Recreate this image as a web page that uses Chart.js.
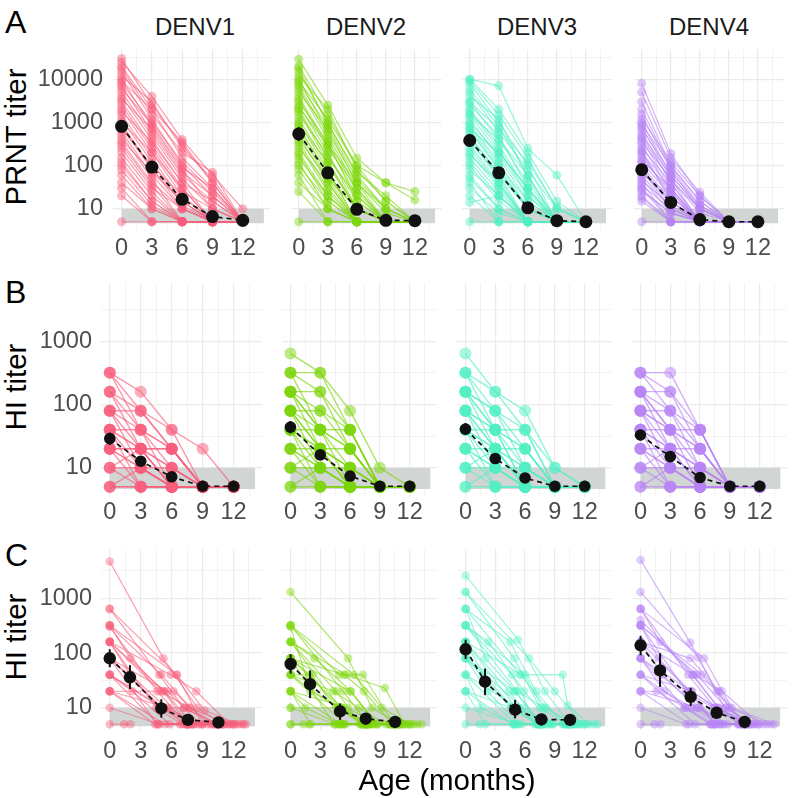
<!DOCTYPE html>
<html><head><meta charset="utf-8">
<script src="https://cdn.jsdelivr.net/npm/chart.js@4.4.1/dist/chart.umd.min.js"></script>
<style>
body{margin:0;background:#fff;width:793px;height:798px;position:relative;overflow:hidden;font-family:"Liberation Sans",Arial,sans-serif;}
canvas{position:absolute;}
.t{position:absolute;white-space:nowrap;line-height:1;}
</style></head><body>
<script>
// ---------- DATA ----------
const serotypes = ['DENV1','DENV2','DENV3','DENV4'];
const visitMonths = [0,3,6,9,12];
const xMajor = [0,3,6,9,12];
const xMinor = [1.5,4.5,7.5,10.5,13.5];
const yMajorA = [10,100,1000,10000];
const yMinorA = [31.62,316.2,3162,31623];
const yMajorBC = [10,100,1000];
const yMinorBC = [31.62,316.2,3162];
const bandLow = 4.6, bandHigh = 10, bandX = [0,14.1];

// Panel A: PRNT titers per infant at 0,3,6,9,12 months
const prntD1 = [[30000,2500,300,40,5],[25000,4000,400,60,10],[20000,2000,150,30,5],[18000,1500,200,70,5],[15000,1200,100,20,5],[12000,3000,250,50,5],[10000,800,80,10,5],[8000,1000,120,25,5],[7000,600,60,15,5],[6000,900,90,30,5],[5000,500,50,10,5],[4000,400,40,5,5],[3500,700,70,20,5],[3000,300,30,5,5],[2500,250,25,10,5],[2000,200,20,5,5],[1800,350,40,15,5],[1500,150,15,5,5],[1200,120,12,5,5],[1000,200,30,5,5],[900,90,10,5,5],[800,80,15,5,5],[700,100,20,5,5],[600,60,10,5,5],[500,50,5,5,5],[400,70,15,5,5],[350,40,10,5,5],[300,35,5,5,5],[250,30,10,5,5],[200,25,5,5,5],[150,20,5,5,5],[120,15,5,5,5],[100,15,5,5,5],[80,12,5,5,5],[60,10,5,5,5],[40,10,5,5,5],[30,5,5,5,5],[20,5,5,5,5],[5,5,5,5,5],[9000,2000,350,40,5]];
const prntD2 = [[29000,2500,150,40,25],[20000,1500,100,40,16],[15000,1000,60,10,5],[12000,2000,80,15,5],[10000,600,40,5,5],[8000,800,50,10,5],[7000,500,30,5,5],[6000,400,25,5,5],[5000,700,40,10,5],[4000,300,20,5,5],[3500,250,30,5,5],[3000,350,15,5,5],[2500,200,10,5,5],[2000,150,20,5,5],[1800,120,10,5,5],[1500,180,15,5,5],[1200,100,10,5,5],[1000,80,5,5,5],[900,120,10,5,5],[800,60,10,5,5],[700,70,5,5,5],[600,50,10,5,5],[500,40,5,5,5],[400,50,5,5,5],[350,30,5,5,5],[300,25,5,5,5],[250,40,5,5,5],[200,20,5,5,5],[180,15,5,5,5],[150,20,5,5,5],[120,10,5,5,5],[100,15,5,5,5],[80,10,5,5,5],[60,5,5,5,5],[40,10,5,5,5],[25,5,5,5,5],[5,5,5,5,5],[18000,900,70,20,5],[9000,1200,100,15,5],[2200,300,40,8,5]];
const prntD3 = [[10000,7000,250,60,5],[9000,1500,150,10,5],[8000,1000,100,5,5],[6000,800,60,5,5],[5000,600,80,10,5],[4000,1200,50,5,5],[3000,400,40,5,5],[2500,500,30,5,5],[2000,300,25,5,5],[1800,250,20,5,5],[1500,200,30,5,5],[1200,150,15,5,5],[1000,180,20,5,5],[900,120,10,5,5],[800,100,15,5,5],[700,80,10,5,5],[600,90,10,5,5],[500,60,5,5,5],[450,70,10,5,5],[400,50,5,5,5],[350,60,10,5,5],[300,40,5,5,5],[250,35,5,5,5],[200,30,5,5,5],[180,40,5,5,5],[150,25,5,5,5],[120,20,5,5,5],[100,15,5,5,5],[80,20,5,5,5],[60,10,5,5,5],[50,10,5,5,5],[40,5,5,5,5],[30,8,5,5,5],[20,5,5,5,5],[14,20,5,5,5],[5,5,5,5,5],[3000,700,120,11,5],[1500,400,60,5,5],[700,200,30,5,5],[10000,2000,200,15,5]];
const prntD4 = [[8000,190,20,5,5],[5000,150,24,5,5],[3000,100,15,5,5],[1500,80,10,5,5],[1200,120,20,5,5],[1000,60,10,5,5],[800,50,5,5,5],[700,70,12,5,5],[600,40,5,5,5],[500,60,10,5,5],[400,30,5,5,5],[350,50,8,5,5],[300,25,5,5,5],[250,40,5,5,5],[200,30,5,5,5],[180,20,5,5,5],[150,25,5,5,5],[120,20,5,5,5],[100,15,5,5,5],[90,12,5,5,5],[80,10,5,5,5],[70,15,5,5,5],[60,10,5,5,5],[50,8,5,5,5],[45,12,5,5,5],[40,5,5,5,5],[35,10,5,5,5],[30,5,5,5,5],[25,8,5,5,5],[20,5,5,5,5],[15,5,5,5,5],[5,5,5,5,5],[2000,90,12,5,5],[900,100,15,5,5],[450,45,10,5,5],[220,15,5,5,5],[130,30,5,5,5],[65,20,5,5,5],[28,8,5,5,5],[18,5,5,5,5]];
const prntMean = [[810,92,16.5,6.6,5.4],[540,68,9.7,5.4,5.3],[380,68,10.5,5.3,5],[80,14,5.6,5,5]];
const prntLo = [[590,75,13.5,6,5.1],[370,55,8.5,5.1,5],[275,55,9.2,5,5],[62,12,5.2,5,5]];
const prntHi = [[1100,112,20,7.3,5.7],[780,85,11,5.8,5.6],[540,85,12,5.6,5],[105,16.5,6,5,5]];

// Panel B: HI titers per infant at 0,3,6,9,12 months
const hiD1 = [[320,160,40,20,5],[320,80,20,5,5],[320,40,10,5,5],[160,80,40,5,5],[160,20,5,5,5],[160,40,20,5,5],[80,40,20,5,5],[80,20,10,5,5],[80,80,20,5,5],[80,10,5,5,5],[40,20,10,5,5],[40,40,5,5,5],[40,10,5,5,5],[40,5,5,5,5],[20,20,5,5,5],[20,10,5,5,5],[20,5,5,5,5],[20,20,20,5,5],[10,10,5,5,5],[10,5,5,5,5],[5,5,5,5,5],[5,10,5,5,5],[40,20,20,5,5],[20,10,10,5,5],[5,5,5,5,5],[10,20,5,5,5]];
const hiD2 = [[640,320,80,10,5],[320,320,40,5,5],[320,160,20,5,5],[320,40,10,5,5],[160,160,40,5,5],[160,80,20,5,5],[160,40,5,5,5],[160,20,10,5,5],[80,80,40,5,5],[80,40,20,5,5],[80,20,5,5,5],[80,10,5,5,5],[40,40,20,5,5],[40,20,10,5,5],[40,10,5,5,5],[40,5,5,5,5],[20,20,10,5,5],[20,10,5,5,5],[20,5,5,5,5],[10,10,5,5,5],[10,5,5,5,5],[5,5,5,5,5],[5,10,5,5,5],[160,40,40,5,5],[80,20,20,5,5],[40,20,5,5,5],[20,10,10,5,5],[10,20,5,5,5]];
const hiD3 = [[640,160,40,5,5],[320,160,80,10,5],[320,80,20,5,5],[320,40,10,5,5],[160,80,40,5,5],[160,40,20,5,5],[160,20,5,5,5],[160,80,10,5,5],[80,40,20,5,5],[80,20,10,5,5],[80,10,5,5,5],[80,40,5,5,5],[40,20,10,5,5],[40,10,5,5,5],[40,5,5,5,5],[40,40,5,5,5],[20,10,5,5,5],[20,20,5,5,5],[20,5,5,5,5],[10,10,5,5,5],[10,5,5,5,5],[5,5,5,5,5],[5,10,5,5,5],[160,40,40,10,5],[80,20,20,5,5],[20,10,10,5,5],[10,20,5,5,5],[40,20,5,5,5]];
const hiD4 = [[320,320,40,5,5],[320,160,20,5,5],[320,80,10,5,5],[160,160,40,5,5],[160,80,20,5,5],[160,40,10,5,5],[160,20,5,5,5],[80,80,40,5,5],[80,40,20,5,5],[80,20,5,5,5],[80,10,5,5,5],[40,40,20,5,5],[40,20,10,5,5],[40,10,5,5,5],[40,5,5,5,5],[20,20,10,5,5],[20,10,5,5,5],[20,5,5,5,5],[10,10,5,5,5],[10,5,5,5,5],[5,5,5,5,5],[5,10,5,5,5],[40,20,20,5,5],[20,10,10,5,5],[10,20,10,5,5],[80,40,40,5,5],[160,40,5,5,5]];
const hiMean = [[29,12.7,7.2,5.1,5.1],[44,16,7.4,5.1,5.1],[41,14,6.9,5.1,5.1],[33,15,7,5.1,5.1]];
const hiLo = [[23,10.8,6.4,5,5],[35,13.5,6.6,5,5],[33,12,6.2,5,5],[27,12.5,6.3,5,5]];
const hiHi = [[36,15,8.1,5.2,5.2],[55,19,8.3,5.2,5.2],[51,16.5,7.7,5.2,5.2],[40,18,7.8,5.2,5.2]];

// Panel C: HI titers per infant, [age in months, titer]
const cohortD1 = [[[0,4700],[5.2,80],[8.5,10],[11,5]],[[0,640],[4.8,40],[7.2,10],[10.5,5]],[[0,320],[5.0,40],[7.8,10],[11.5,5]],[[0,320],[6.5,40],[9.2,9],[12.5,5]],[[0,300],[4.6,20],[7.5,5],[10.2,5]],[[0,160],[5.3,20],[8,5],[11,5]],[[0,160],[4.5,10],[7,5],[10,5]],[[0,160],[2.0,40],[5.5,10],[8.2,5],[12,5]],[[0,80],[5.1,10],[7.6,5],[10.8,5]],[[0,80],[1.8,40],[4.9,10],[7.4,5],[10.4,5]],[[0,80],[5.6,20],[8.8,5],[13,5]],[[0,40],[4.7,5],[7.3,5],[10.6,5]],[[0,40],[5.2,10],[8.1,5],[11.2,5]],[[0,40],[2.2,20],[5.8,5],[9,5],[12.2,5]],[[0,20],[4.4,5],[6.8,5],[9.8,5]],[[0,20],[5.4,5],[7.9,5],[10.9,5]],[[0,20],[6.2,20],[9.5,5],[12.8,5]],[[0,10],[4.8,5],[7.7,5],[11.8,5]],[[0,5],[1.4,5],[2.0,5]],[[0,160],[5.9,40],[8.4,20],[11.6,5]],[[0,320],[2.0,80],[5.2,20],[7.6,5],[10.6,5]],[[0,40],[5,10],[7.2,10],[10.2,5]],[[0,80],[4.6,5],[7.5,5],[10.5,5]],[[0,20],[5.7,10],[8.6,5],[13.2,5]],[[0,640],[6.5,40],[9,5],[12,5]],[[0,160],[4.9,20],[7.7,10],[10.4,5]]];
const cohortD2 = [[[0,1300],[5.8,80],[8.2,10],[11,5]],[[0,320],[4.9,40],[7.3,40],[10.4,5]],[[0,320],[5.3,20],[7.8,5],[10.8,5]],[[0,300],[2.0,20],[5.0,10],[7.6,5],[10.5,5]],[[0,160],[4.6,20],[7.1,5],[10.2,5]],[[0,160],[5.6,40],[9.5,23],[11.5,5]],[[0,160],[5.0,10],[7.5,5],[11.8,5]],[[0,80],[1.9,40],[4.8,10],[7.4,5],[10.6,5]],[[0,80],[5.2,10],[8.0,5],[12.4,5]],[[0,80],[4.4,5],[7.0,5],[9.9,5]],[[0,80],[6.0,20],[8.8,5],[13.2,5]],[[0,40],[2.2,40],[5.4,5],[7.9,5],[10.9,5]],[[0,40],[4.7,10],[7.2,5],[10.1,5]],[[0,40],[5.5,5],[8.3,5],[12,5]],[[0,20],[1.5,10],[4.9,5],[7.5,5],[10.4,5]],[[0,20],[5.1,5],[7.7,5],[11.1,5]],[[0,20],[5.8,10],[8.5,5],[12.8,5]],[[0,10],[4.5,5],[7.3,5],[10,5]],[[0,5],[1.3,5],[1.9,5],[5.0,5]],[[0,5],[4.8,5],[7.6,5],[10.7,5]],[[0,160],[2.4,80],[6.1,20],[8.7,5],[11.4,5]],[[0,80],[5.4,40],[7.4,20],[10.3,5]],[[0,40],[4.3,20],[6.9,10],[9.6,5]],[[0,320],[6.4,40],[9.2,10],[12.1,5]],[[0,20],[2.0,5],[5.3,5],[8.1,5]],[[0,10],[5.2,10],[7.8,5],[11.3,5]]];
const cohortD3 = [[[0,2600],[5.3,175],[8,20],[10.5,5]],[[0,1300],[4.9,80],[7.5,10],[10.2,5]],[[0,640],[5.5,40],[9.8,40],[10.3,11],[12.5,5]],[[0,640],[2.0,80],[5.0,20],[7.6,5],[10.6,5]],[[0,320],[4.7,40],[7.2,5],[10.4,5]],[[0,320],[5.2,20],[7.9,10],[11,5]],[[0,320],[6.0,40],[8.6,5],[12.2,5]],[[0,160],[1.8,40],[4.8,10],[7.4,5],[10.5,5]],[[0,160],[5.1,10],[7.7,5],[10.8,5]],[[0,160],[4.4,20],[7.0,5],[9.9,5]],[[0,80],[2.2,20],[5.4,5],[8.0,5],[11.5,5]],[[0,80],[4.6,10],[7.3,5],[10.1,5]],[[0,80],[5.8,10],[8.4,5],[13,5]],[[0,40],[5.0,5],[7.6,5],[10.7,5]],[[0,40],[1.6,10],[4.9,5],[7.5,5],[10.3,5]],[[0,40],[5.3,10],[8.2,5],[12,5]],[[0,20],[4.8,5],[7.4,5],[10.4,5]],[[0,20],[2.0,5],[5.6,5],[8.8,5]],[[0,10],[5.2,5],[7.8,5],[11.2,5]],[[0,5],[1.4,5],[4.9,5],[7.6,5]],[[0,1300],[6.4,80],[9.0,20],[11.8,5]],[[0,640],[4.5,160],[7.1,20],[9.8,5]],[[0,160],[5.6,40],[8.1,10],[10.9,5]],[[0,80],[5.0,20],[7.7,5],[13.3,5]],[[0,320],[2.3,160],[5.9,20],[8.7,5],[11.4,5]],[[0,20],[4.6,10],[7.2,5],[10,5]]];
const cohortD4 = [[[0,5000],[5.0,155],[7.7,20],[10.4,5]],[[0,1300],[5.8,83],[8.5,10],[11.2,5]],[[0,640],[4.8,40],[7.5,10],[10.6,5]],[[0,640],[2.0,160],[5.2,40],[7.9,10],[10.8,5]],[[0,400],[5.4,40],[8.2,20],[12,5]],[[0,320],[4.6,20],[7.3,10],[10.3,5]],[[0,320],[1.8,80],[5.0,20],[7.6,5],[10.5,5]],[[0,320],[6.2,40],[9.0,10],[12.8,5]],[[0,160],[4.9,20],[7.4,5],[10.1,5]],[[0,160],[5.3,40],[7.8,10],[11,5]],[[0,160],[2.2,40],[5.6,10],[8.3,5],[11.6,5]],[[0,80],[4.4,10],[7.1,5],[9.9,5]],[[0,80],[5.1,20],[7.7,10],[10.7,5]],[[0,80],[6.0,10],[8.8,5],[13.2,5]],[[0,40],[4.7,10],[7.4,5],[10.4,5]],[[0,40],[5.5,5],[8,5],[12.4,5]],[[0,20],[4.9,5],[7.6,5],[10.6,5]],[[0,20],[5.8,10],[8.4,5],[11.8,5]],[[0,10],[4.6,5],[7.2,5],[10.2,5]],[[0,5],[1.4,5],[2.0,5]],[[0,160],[5.0,80],[7.9,20],[10.5,5]],[[0,320],[5.7,40],[8.6,10],[11.4,5]],[[0,640],[6.4,80],[9.2,10],[13.5,5]],[[0,80],[2.4,20],[5.2,10],[8.0,5],[10.9,5]],[[0,40],[5.2,20],[7.5,10],[10,5]],[[0,20],[1.6,20],[4.5,10],[7.0,5],[9.8,5]]];
const cohortAge = [[0,1.96,5.0,7.58,10.54],[0,1.96,4.99,7.58,10.54],[0,1.96,4.99,7.64,10.54],[0,1.96,5.05,7.67,10.5]];
const cohortMean = [[80,36,9.7,6,5.4],[63,27,8.6,6.3,5.5],[117,30,9.2,6.1,6],[138,48,15.8,8.1,5.5]];
const cohortLo = [[55,22,6.6,5.4,5.1],[42,15,6,5.6,5.2],[78,17,6.4,5.5,5.5],[91,24,10.8,7,5.2]];
const cohortHi = [[117,60,14.3,6.7,5.8],[95,48,12,7,5.8],[175,52,13.9,6.8,6.6],[206,99,23,9.4,5.9]];

// ---------- STYLE / LAYOUT ----------
const rgb = ['249,94,124','124,214,10','80,240,195','184,131,245'];
const FONT = '"Liberation Sans", Arial, sans-serif';
const layout = [
  {top:43, h:187, lefts:[113,284,455,627], w:164, yMin:3.22, yMax:48600, yMajor:yMajorA, yMinor:yMinorA, xPad:4, yPad:10, lw:1.2, lineA:0.6, ptR:4.5, ptA:0.45, meanR:6.5, ylabel:'PRNT titer', letter:'A'},
  {top:277, h:220, lefts:[101,276,451,626], w:167, yMin:3.45, yMax:8375, yMajor:yMajorBC, yMinor:yMinorBC, xPad:1, yPad:9, lw:1.4, lineA:0.65, ptR:6, ptA:0.5, meanR:5.8, ylabel:'HI titer', letter:'B'},
  {top:543, h:187, lefts:[101,276,451,626], w:167, yMin:3.92, yMax:7889, yMajor:yMajorBC, yMinor:yMinorBC, xPad:7, yPad:9, lw:1.2, lineA:0.6, ptR:4.3, ptA:0.42, meanR:6.2, ylabel:'HI titer', letter:'C'}
];
const XAXIS_H = 40;

const rowsData = [
  {lines:[prntD1,prntD2,prntD3,prntD4].map(s=>s.map(r=>visitMonths.map((m,i)=>({x:m,y:r[i]})))),
   meanX: serotypes.map(()=>visitMonths), mean:prntMean, lo:prntLo, hi:prntHi},
  {lines:[hiD1,hiD2,hiD3,hiD4].map(s=>s.map(r=>visitMonths.map((m,i)=>({x:m,y:r[i]})))),
   meanX: serotypes.map(()=>visitMonths), mean:hiMean, lo:hiLo, hi:hiHi},
  {lines:[cohortD1,cohortD2,cohortD3,cohortD4].map(s=>s.map(r=>r.map(([x,y])=>({x,y})))),
   meanX: cohortAge, mean:cohortMean, lo:cohortLo, hi:cohortHi}
];

const errPlugin = {
  id:'errbars',
  afterDatasetsDraw(chart, args, o){
    if(!o || !o.x) return;
    const ctx = chart.ctx, xs = chart.scales.x, ys = chart.scales.y;
    ctx.save(); ctx.strokeStyle = '#111'; ctx.lineWidth = 2;
    o.x.forEach((xv,i)=>{
      const px = xs.getPixelForValue(xv);
      ctx.beginPath();
      ctx.moveTo(px, ys.getPixelForValue(o.lo[i]));
      ctx.lineTo(px, ys.getPixelForValue(o.hi[i]));
      ctx.stroke();
    });
    ctx.restore();
  }
};
Chart.register(errPlugin);

function addText(txt, css){
  const d = document.createElement('div');
  d.className = 't'; d.textContent = txt;
  Object.assign(d.style, css);
  document.body.appendChild(d);
}

layout.forEach((L, r)=>{
  const R = rowsData[r];
  addText(L.letter, {left:'5px', top:(r===0?6:(r===1?276:539))+'px', fontSize:'32px', color:'#000'});
  addText(L.ylabel, {left:'16px', top:(L.top + L.h/2)+'px', fontSize:'29.5px', color:'#000', transform:'translate(-50%,-50%) rotate(-90deg)'});
  for(let c=0;c<4;c++){
    const chartLeft = L.lefts[c];
    const cv = document.createElement('canvas');
    const cl = c===0 ? 0 : chartLeft;
    const cw = c===0 ? chartLeft + L.w : L.w;
    cv.width = cw; cv.height = L.h + XAXIS_H;
    cv.style.left = cl+'px'; cv.style.top = L.top+'px';
    cv.style.width = cw+'px'; cv.style.height = (L.h+XAXIS_H)+'px';
    document.body.appendChild(cv);
    if(r===0){
      addText(serotypes[c], {left:(chartLeft + L.w/2)+'px', top:'15px', fontSize:'24px', color:'#1A1A1A', transform:'translateX(-50%)'});
    }
    const col = rgb[c];
    const datasets = [];
    datasets.push({
      data: R.meanX[c].map((x,i)=>({x, y:R.mean[c][i]})),
      borderColor:'#111', backgroundColor:'#111', borderWidth:1.7, borderDash:[5,4],
      pointRadius:L.meanR, pointBorderWidth:0, pointBackgroundColor:'#111', order:0, tension:0, fill:false
    });
    R.lines[c].forEach(pts=>{
      datasets.push({
        data: pts, borderColor:`rgba(${col},${L.lineA})`, borderWidth:L.lw,
        pointRadius:L.ptR, pointBorderWidth:0, pointBackgroundColor:`rgba(${col},${L.ptA})`,
        order:1, tension:0, fill:false
      });
    });
    datasets.push({
      data: bandX.map(x=>({x, y:bandHigh})), fill:{value:bandLow},
      backgroundColor:'#D1D5D4', borderWidth:0, pointRadius:0, order:2
    });
    const isMajY = v => L.yMajor.includes(v);
    const isMajX = v => xMajor.includes(v);
    new Chart(cv, {
      type:'line',
      data:{datasets},
      options:{
        responsive:false, animation:false, events:[], clip:false,
        layout:{padding:0},
        plugins:{legend:{display:false}, tooltip:{enabled:false},
          errbars:{x:R.meanX[c], lo:R.lo[c], hi:R.hi[c]}},
        scales:{
          x:{type:'linear', min:-0.85, max:14.75,
            afterBuildTicks: s=>{ s.ticks = xMajor.concat(xMinor).sort((a,b)=>a-b).map(v=>({value:v})); },
            afterFit: s=>{ s.height = XAXIS_H; s.paddingLeft = 0; s.paddingRight = 0; },
            ticks:{autoSkip:false, maxRotation:0, padding:L.xPad, color:'#4D4D4D', font:{size:23.5, family:FONT},
              callback: v => isMajX(v) ? String(v) : ''},
            grid:{color:'#EBEBEB', drawTicks:false, lineWidth: ctx => (ctx.tick && isMajX(ctx.tick.value)) ? 1.2 : 0.6},
            border:{display:false}},
          y:{type:'logarithmic', min:L.yMin, max:L.yMax,
            afterBuildTicks: s=>{ s.ticks = L.yMajor.concat(L.yMinor).sort((a,b)=>a-b).map(v=>({value:v})); },
            afterFit: s=>{ s.width = c===0 ? chartLeft : 0; s.paddingTop = 0; s.paddingBottom = 0; },
            ticks:{display:c===0, autoSkip:false, padding:L.yPad, color:'#4D4D4D', font:{size:23.5, family:FONT},
              callback: v => isMajY(v) ? String(v) : ''},
            grid:{color:'#EBEBEB', drawTicks:false, lineWidth: ctx => (ctx.tick && isMajY(ctx.tick.value)) ? 1.2 : 0.6},
            border:{display:false}}
        }
      }
    });
  }
});
addText('Age (months)', {left:'447px', top:'765px', fontSize:'29.5px', color:'#000', transform:'translateX(-50%)'});
</script>
</body></html>
